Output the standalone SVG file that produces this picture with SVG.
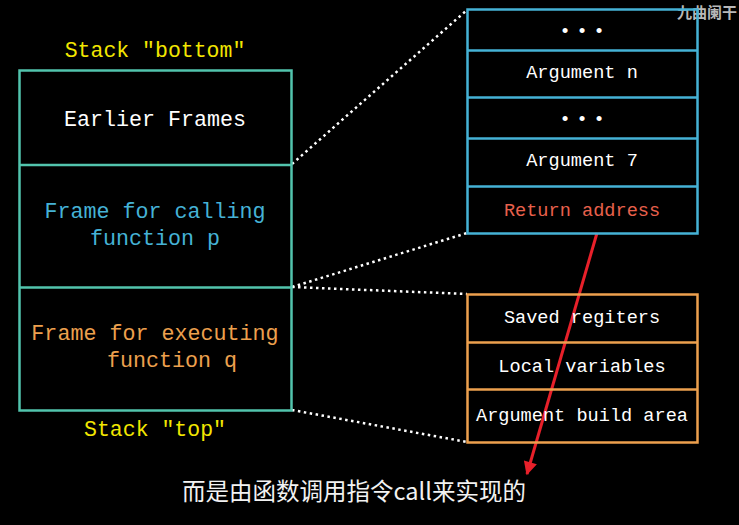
<svg xmlns="http://www.w3.org/2000/svg" width="739" height="525" viewBox="0 0 739 525">
<defs>
<style>
.mono{font-family:"Liberation Mono","DejaVu Sans Mono",monospace;text-anchor:middle}
.big{font-size:21.7px}
.small{font-size:18.6px}
.lab{font-size:21.5px;fill:#f2e600}
.teal{fill:none;stroke:#52c4ad;stroke-width:2.5}
.blue{fill:none;stroke:#45b2d6;stroke-width:2.5}
.orange{fill:none;stroke:#eda04e;stroke-width:2.5}
.dot{fill:none;stroke:#ffffff;stroke-width:2.5;stroke-dasharray:2.5 3.5}
</style>
<marker id="ah" viewBox="0 0 10 10" refX="9" refY="5" markerWidth="5.5" markerHeight="4.5" orient="auto" markerUnits="strokeWidth">
<path d="M0,0 L10,5 L0,10 z" fill="#e8202a"/>
</marker>
</defs>
<rect width="739" height="525" fill="#000"/>
<text x="737" y="18" font-family="Noto Sans CJK SC,sans-serif" font-size="15" font-weight="bold" fill="#b8b8b8" text-anchor="end">九曲阑干</text>

<g id="connectors">
<line class="dot" x1="292" y1="164" x2="467" y2="10"/>
<line class="dot" x1="292" y1="287" x2="467" y2="233"/>
<line class="dot" x1="292" y1="287" x2="467" y2="294"/>
<line class="dot" x1="292" y1="410" x2="467" y2="442"/>
<line x1="597" y1="233" x2="527" y2="474" stroke="#e8202a" stroke-width="3" marker-end="url(#ah)"/>
</g>

<g id="stack">
<text class="mono lab" x="155" y="57">Stack "bottom"</text>
<rect class="teal" x="19.5" y="70.5" width="272" height="340"/>
<line class="teal" x1="19.5" y1="165" x2="291.5" y2="165"/>
<line class="teal" x1="19.5" y1="287.5" x2="291.5" y2="287.5"/>
<text class="mono big" x="155" y="126" fill="#ffffff">Earlier Frames</text>
<text class="mono big" x="155" y="218" fill="#45b2d6">Frame for calling</text>
<text class="mono big" x="155" y="245" fill="#45b2d6">function p</text>
<text class="mono big" x="155" y="340" fill="#eda04e">Frame for executing</text>
<text class="mono big" x="172" y="367" fill="#eda04e">function q</text>
<text class="mono lab" x="155" y="436">Stack "top"</text>
</g>

<g id="caller-frame">
<rect class="blue" x="467.5" y="9.5" width="230" height="224"/>
<line class="blue" x1="467.5" y1="50.5" x2="697.5" y2="50.5"/>
<line class="blue" x1="467.5" y1="97.5" x2="697.5" y2="97.5"/>
<line class="blue" x1="467.5" y1="138.5" x2="697.5" y2="138.5"/>
<line class="blue" x1="467.5" y1="186.5" x2="697.5" y2="186.5"/>
<text class="mono small" x="585" y="37" fill="#fff" letter-spacing="5.8">•••</text>
<text class="mono small" x="582" y="78" fill="#fff">Argument n</text>
<text class="mono small" x="585" y="125" fill="#fff" letter-spacing="5.8">•••</text>
<text class="mono small" x="582" y="166" fill="#fff">Argument 7</text>
<text class="mono small" x="582" y="216" fill="#e8604c">Return address</text>
</g>

<g id="callee-frame">
<rect class="orange" x="467.5" y="294.5" width="230" height="148"/>
<line class="orange" x1="467.5" y1="342.5" x2="697.5" y2="342.5"/>
<line class="orange" x1="467.5" y1="389.5" x2="697.5" y2="389.5"/>
<text class="mono small" x="582" y="323" fill="#fff">Saved regiters</text>
<text class="mono small" x="582" y="372" fill="#fff">Local variables</text>
<text class="mono small" x="582" y="421" fill="#fff">Argument build area</text>
</g>

<text x="354" y="500" font-family="Noto Sans CJK SC,sans-serif" font-size="23.5" fill="#f2f2f2" text-anchor="middle">而是由函数调用指令call来实现的</text>
</svg>
